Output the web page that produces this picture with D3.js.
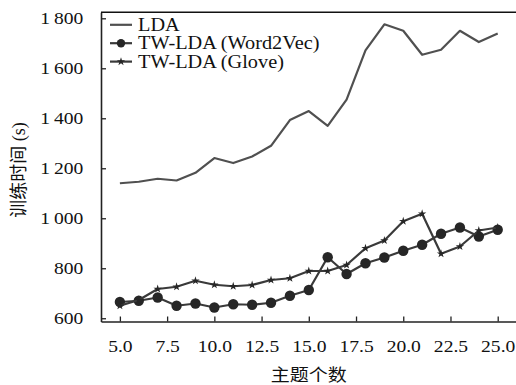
<!DOCTYPE html>
<html>
<head>
<meta charset="utf-8">
<script src="https://cdn.jsdelivr.net/npm/d3@7/dist/d3.min.js"></script>
<style>
  html, body { margin: 0; padding: 0; background: #fff; }
  svg { display: block; }
  text { font-family: "Liberation Serif", "Noto Sans CJK SC", serif; fill: #111; }
</style>
</head>
<body>
<script>
// Number of topics
const topics = [5, 6, 7, 8, 9, 10, 11, 12, 13, 14, 15, 16, 17, 18, 19, 20, 21, 22, 23, 24, 25];
// Training time (s) per model
const ldaTime = [1140, 1146, 1158, 1151, 1182, 1241, 1221, 1247, 1290, 1393, 1429, 1370, 1475, 1672, 1776, 1750, 1654, 1674, 1750, 1705, 1739];
const w2vTime = [665, 670, 683, 650, 659, 643, 656, 654, 662, 690, 713, 844, 777, 820, 843, 870, 894, 938, 963, 927, 954];
const gloveTime = [650, 673, 717, 726, 750, 734, 728, 733, 753, 760, 789, 789, 813, 880, 911, 988, 1018, 858, 887, 951, 963];
// Axis ticks
const xTicks = [5, 7.5, 10, 12.5, 15, 17.5, 20, 22.5, 25];
const yTicks = [600, 800, 1000, 1200, 1400, 1600, 1800];
const seriesNames = ["LDA", "TW-LDA (Word2Vec)", "TW-LDA (Glove)"];

const W = 516, H = 385;
const plot = { left: 101, right: 516.6, top: 12.3, bottom: 321.5 };
const lineColor = "#3a3a3a";
const stretch = 1.12;   // slightly wide type face
const fontSize = 17.5;

const svg = d3.select("body").append("svg").attr("width", W).attr("height", H);

const x = d3.scaleLinear().domain([4, 26]).range([plot.left, plot.right]);
const y = d3.scaleLinear().domain([587, 1824]).range([plot.bottom, plot.top]);

const fmtY = v => {
  const s = String(v);
  return s.length > 3 ? s.slice(0, s.length - 3) + "\u2009" + s.slice(-3) : s;
};

// Axes with inward ticks
const gx = svg.append("g").attr("transform", `translate(0,${plot.bottom})`)
  .call(d3.axisBottom(x).tickValues(xTicks).tickFormat(d3.format(".1f"))
    .tickSizeInner(-5).tickSizeOuter(0).tickPadding(18.5));
const gy = svg.append("g").attr("transform", `translate(${plot.left},0)`)
  .call(d3.axisLeft(y).tickValues(yTicks).tickFormat(fmtY)
    .tickSizeInner(-5).tickSizeOuter(0).tickPadding(15.8));

[gx, gy].forEach(g => {
  g.select(".domain").attr("stroke", "#222").attr("stroke-width", 1.6);
  g.selectAll(".tick line").attr("stroke", "#222").attr("stroke-width", 1.3);
  g.selectAll(".tick text").attr("font-size", fontSize).attr("fill", "#111")
    .attr("transform", `scale(${stretch},1)`)
    .style("font-family", "'Liberation Serif', serif");
});

// Top frame line
svg.append("line").attr("x1", plot.left).attr("x2", W).attr("y1", plot.top).attr("y2", plot.top)
  .attr("stroke", "#111").attr("stroke-width", 1.6);

// Axis titles
svg.append("text")
  .attr("transform", `translate(${(plot.left + plot.right) / 2},381) scale(${stretch},1)`)
  .attr("text-anchor", "middle").attr("font-size", 17).text("主题个数");
svg.append("text").attr("transform", `translate(25,170) rotate(-90)`)
  .attr("text-anchor", "middle").attr("font-size", 18).text("训练时间 (s)");

const line = d3.line().x((d, i) => x(topics[i])).y(d => y(d));

const series = [
  { name: seriesNames[0], values: ldaTime, marker: null, color: "#505050" },
  { name: seriesNames[1], values: w2vTime, marker: "circle", color: lineColor },
  { name: seriesNames[2], values: gloveTime, marker: "star", color: lineColor }
];

const circleSym = d3.symbol().type(d3.symbolCircle).size(85);
const starSym = d3.symbol().type(d3.symbolStar).size(22);

series.forEach(s => {
  svg.append("path").datum(s.values).attr("d", line)
    .attr("fill", "none").attr("stroke", s.color).attr("stroke-width", 2.2)
    .attr("stroke-linejoin", "round");
  if (s.marker) {
    svg.append("g").selectAll("path").data(s.values).join("path")
      .attr("transform", (d, i) => `translate(${x(topics[i])},${y(d)})`)
      .attr("d", s.marker === "circle" ? circleSym() : starSym())
      .attr("fill", "#262626");
  }
});

// Legend
const legend = svg.append("g");
const rows = [24.8, 43.2, 61.6];
series.forEach((s, i) => {
  const g = legend.append("g").attr("transform", `translate(0,${rows[i]})`);
  g.append("line").attr("x1", 110).attr("x2", 132).attr("y1", 0).attr("y2", 0)
    .attr("stroke", s.color).attr("stroke-width", 2.2);
  if (s.marker) {
    g.append("path").attr("transform", "translate(121,0)")
      .attr("d", s.marker === "circle" ? d3.symbol().type(d3.symbolCircle).size(55)() : starSym())
      .attr("fill", "#262626");
  }
  g.append("text").attr("transform", `translate(138,0) scale(1.14,1)`)
    .attr("dy", "0.34em").attr("font-size", 17.8).text(s.name);
});
</script>
</body>
</html>
